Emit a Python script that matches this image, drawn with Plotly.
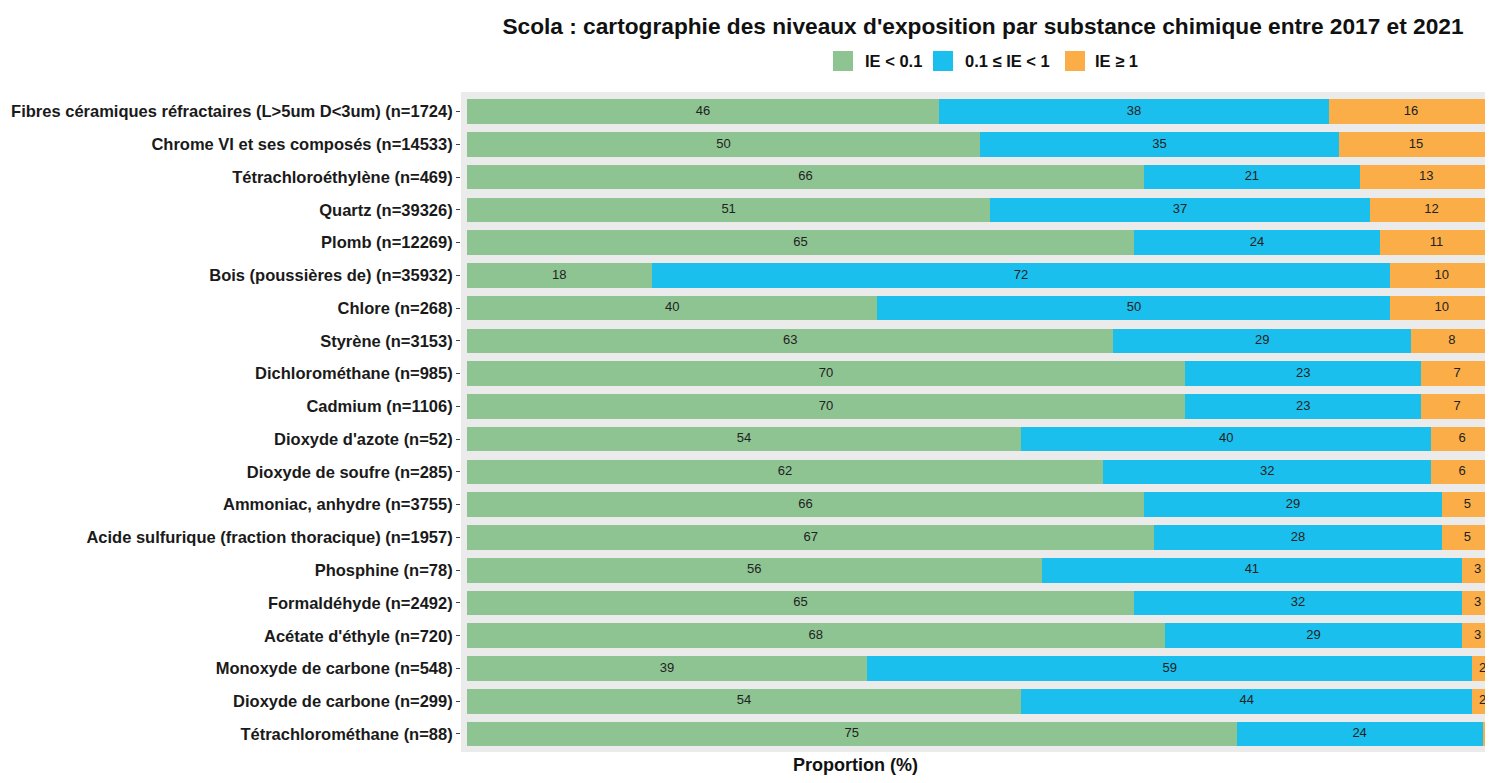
import plotly.graph_objects as go

# Substances (de haut en bas) et proportions par classe d'exposition
substances = [
    "Fibres céramiques réfractaires (L>5um D<3um) (n=1724)",
    "Chrome VI et ses composés (n=14533)",
    "Tétrachloroéthylène (n=469)",
    "Quartz (n=39326)",
    "Plomb (n=12269)",
    "Bois (poussières de) (n=35932)",
    "Chlore (n=268)",
    "Styrène (n=3153)",
    "Dichlorométhane (n=985)",
    "Cadmium (n=1106)",
    "Dioxyde d'azote (n=52)",
    "Dioxyde de soufre (n=285)",
    "Ammoniac, anhydre (n=3755)",
    "Acide sulfurique (fraction thoracique) (n=1957)",
    "Phosphine (n=78)",
    "Formaldéhyde (n=2492)",
    "Acétate d'éthyle (n=720)",
    "Monoxyde de carbone (n=548)",
    "Dioxyde de carbone (n=299)",
    "Tétrachlorométhane (n=88)",
]
ie_faible = [46, 50, 66, 51, 65, 18, 40, 63, 70, 70, 54, 62, 66, 67, 56, 65, 68, 39, 54, 75]
ie_moyen = [38, 35, 21, 37, 24, 72, 50, 29, 23, 23, 40, 32, 29, 28, 41, 32, 29, 59, 44, 24]
ie_fort = [16, 15, 13, 12, 11, 10, 10, 8, 7, 7, 6, 6, 5, 5, 3, 3, 3, 2, 2, 1]

classes = ["IE < 0.1", "0.1 ≤ IE < 1", "IE ≥ 1"]
couleurs = ["#8ec492", "#1bbfee", "#fbae48"]
series = [ie_faible, ie_moyen, ie_fort]

# dimensions (la page ajoute une marge de 8 px autour de la figure)
W, H = 1477, 767
L, T, B = 453, 84, 23
larg = W - L
haut = H - T - B


def px_x(x):
    return (x - L) / larg


def px_y(y):
    return (H - B - y) / haut


fig = go.Figure()

# barres empilées
for nom, vals, coul in zip(classes, series, couleurs):
    fig.add_trace(go.Bar(y=substances, x=vals, name=nom, orientation='h', showlegend=False,
                         marker=dict(color=coul, line=dict(width=0)), width=0.75))

# étiquettes au centre de chaque segment
base = [0] * len(substances)
for vals in series:
    milieux = [b + v / 2 for b, v in zip(base, vals)]
    fig.add_trace(go.Scatter(y=substances, x=milieux, mode='text', text=[str(v) for v in vals],
                             textfont=dict(size=13, color='#222222', family='Liberation Sans'),
                             showlegend=False, hoverinfo='skip', cliponaxis=False))
    base = [b + v for b, v in zip(base, vals)]

# légende dessinée à la main (carrés + textes)
leg_carres = [825, 925, 1057]
leg_textes = [855, 955, 1085]
shapes = []
annots = []
for nom, coul, xc, xt in zip(classes, couleurs, leg_carres, leg_textes):
    shapes.append(dict(type='rect', xref='paper', yref='paper', x0=px_x(xc), x1=px_x(xc + 20),
                       y0=px_y(63), y1=px_y(43), fillcolor=coul, line=dict(width=0)))
    annots.append(dict(text="<b>" + nom + "</b>", xref='paper', yref='paper', x=px_x(xt), y=px_y(53),
                       xanchor='left', yanchor='middle', showarrow=False,
                       font=dict(size=16.5, color='#111111')))

annots.append(dict(text="<b>Proportion (%)</b>", xref='paper', yref='paper', x=px_x(847), y=px_y(757),
                   xanchor='center', yanchor='middle', showarrow=False,
                   font=dict(size=18, color='#111111')))

fig.update_layout(
    barmode='stack',
    width=W, height=H,
    margin=dict(l=L, r=0, t=T, b=B, autoexpand=False),
    paper_bgcolor='white',
    plot_bgcolor='#ebebeb',
    showlegend=False,
    font=dict(family='Liberation Sans', color='#1a1a1a'),
    title=dict(text="<b>Scola : cartographie des niveaux d'exposition par substance chimique entre 2017 et 2021</b>",
               x=975 / W, xref='container', xanchor='center', y=1 - 18 / H, yanchor='middle',
               font=dict(size=22.7, color='#111111')),
    xaxis=dict(range=[-0.585, -0.585 + larg / 10.26], showgrid=False, zeroline=False,
               showticklabels=False, ticks='', automargin=False),
    yaxis=dict(type='category', categoryorder='array', categoryarray=substances,
               range=[19.55, -0.6], showgrid=False, ticks='outside', ticklen=4, automargin=False,
               tickcolor='#444444', tickfont=dict(size=16.5, color='#1a1a1a')),
    shapes=shapes,
    annotations=annots,
)

# noms en gras sur l'axe
fig.update_yaxes(ticktext=["<b>" + s + "</b>" for s in substances], tickvals=substances)

fig.write_html("out.html")
